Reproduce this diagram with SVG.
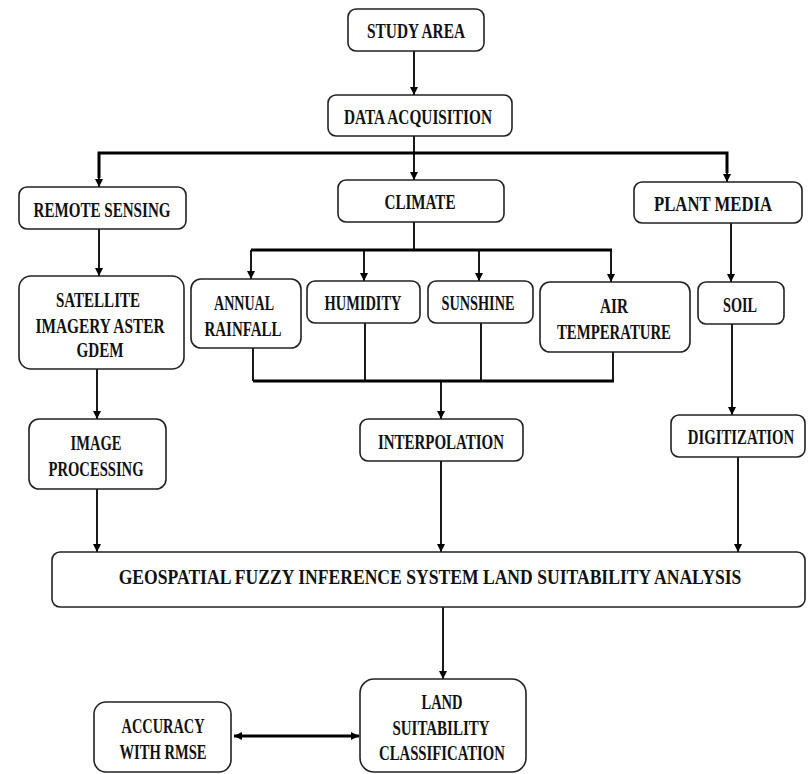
<svg xmlns="http://www.w3.org/2000/svg" width="808" height="774" viewBox="0 0 808 774">
<style>
.box{fill:#fff;stroke:#222;stroke-width:1.6}
.t{font-family:"Liberation Serif","Times New Roman",serif;font-weight:bold;font-size:20px;fill:#111;text-anchor:middle}
.ln{stroke:#000;stroke-width:1.8;fill:none}
.bus{stroke:#000;stroke-width:3;fill:none}
</style>
<defs>
<marker id="ah" viewBox="0 0 10 10" refX="10" refY="5" markerWidth="9" markerHeight="8" markerUnits="userSpaceOnUse" orient="auto-start-reverse">
<path d="M0,0 L10,5 L0,10 z" fill="#000"/>
</marker>
</defs>
<rect width="808" height="774" fill="#fff"/>
<g id="connectors">
<line class="ln" x1="414" y1="51" x2="414" y2="95" marker-end="url(#ah)"/>
<line class="ln" x1="414" y1="136" x2="414" y2="180" marker-end="url(#ah)"/>
<polyline class="bus" points="99,178 99,153 727,153 727,173"/>
<line class="ln" x1="99" y1="170" x2="99" y2="187" marker-end="url(#ah)"/>
<line class="ln" x1="727" y1="165" x2="727" y2="182" marker-end="url(#ah)"/>
<line class="ln" x1="414" y1="222" x2="414" y2="250"/>
<line class="bus" x1="251" y1="250" x2="612" y2="250"/>
<line class="ln" x1="251" y1="250" x2="251" y2="279" marker-end="url(#ah)"/>
<line class="ln" x1="364" y1="250" x2="364" y2="281" marker-end="url(#ah)"/>
<line class="ln" x1="479" y1="250" x2="479" y2="281" marker-end="url(#ah)"/>
<line class="ln" x1="611" y1="250" x2="611" y2="282" marker-end="url(#ah)"/>
<line class="ln" x1="99" y1="229" x2="99" y2="276" marker-end="url(#ah)"/>
<line class="ln" x1="731" y1="223" x2="731" y2="282" marker-end="url(#ah)"/>
<line class="ln" x1="253" y1="348" x2="253" y2="381"/>
<line class="ln" x1="365" y1="323" x2="365" y2="381"/>
<line class="ln" x1="481" y1="323" x2="481" y2="381"/>
<line class="ln" x1="613" y1="352" x2="613" y2="381"/>
<line class="bus" x1="253" y1="381" x2="614" y2="381"/>
<line class="ln" x1="441" y1="381" x2="441" y2="419" marker-end="url(#ah)"/>
<line class="ln" x1="97" y1="369" x2="97" y2="419" marker-end="url(#ah)"/>
<line class="ln" x1="732" y1="324" x2="732" y2="415" marker-end="url(#ah)"/>
<line class="ln" x1="97" y1="489" x2="97" y2="552" marker-end="url(#ah)"/>
<line class="ln" x1="441" y1="461" x2="441" y2="552" marker-end="url(#ah)"/>
<line class="ln" x1="738" y1="457" x2="738" y2="552" marker-end="url(#ah)"/>
<line class="ln" x1="443" y1="607" x2="443" y2="679" marker-end="url(#ah)"/>
<line class="bus" x1="234" y1="736" x2="359" y2="736" marker-start="url(#ah)" marker-end="url(#ah)"/>
</g>
<g id="study-area"><rect class="box" x="348" y="9" width="136" height="42" rx="8"/><text class="t" x="416" y="38" textLength="98" lengthAdjust="spacingAndGlyphs">STUDY AREA</text></g>
<g id="data-acquisition"><rect class="box" x="328" y="95" width="184" height="41" rx="8"/><text class="t" x="418" y="124" textLength="148" lengthAdjust="spacingAndGlyphs">DATA ACQUISITION</text></g>
<g id="remote-sensing"><rect class="box" x="19" y="187" width="167" height="42" rx="8"/><text class="t" x="102" y="217" textLength="137" lengthAdjust="spacingAndGlyphs">REMOTE SENSING</text></g>
<g id="climate"><rect class="box" x="338" y="180" width="166" height="42" rx="8"/><text class="t" x="420" y="209" textLength="71" lengthAdjust="spacingAndGlyphs">CLIMATE</text></g>
<g id="plant-media"><rect class="box" x="634" y="182" width="168" height="41" rx="8"/><text class="t" x="713" y="211" textLength="118" lengthAdjust="spacingAndGlyphs">PLANT MEDIA</text></g>
<g id="satellite"><rect class="box" x="19" y="276" width="165" height="93" rx="12"/><text class="t" x="98" y="307" textLength="84" lengthAdjust="spacingAndGlyphs">SATELLITE</text><text class="t" x="100" y="333" textLength="129" lengthAdjust="spacingAndGlyphs">IMAGERY ASTER</text><text class="t" x="100" y="357" textLength="47" lengthAdjust="spacingAndGlyphs">GDEM</text></g>
<g id="annual-rainfall"><rect class="box" x="191" y="279" width="110" height="69" rx="10"/><text class="t" x="244" y="310" textLength="60" lengthAdjust="spacingAndGlyphs">ANNUAL</text><text class="t" x="243" y="336" textLength="77" lengthAdjust="spacingAndGlyphs">RAINFALL</text></g>
<g id="humidity"><rect class="box" x="307" y="281" width="113" height="42" rx="8"/><text class="t" x="363" y="310" textLength="77" lengthAdjust="spacingAndGlyphs">HUMIDITY</text></g>
<g id="sunshine"><rect class="box" x="428" y="281" width="105" height="42" rx="8"/><text class="t" x="478" y="310" textLength="73" lengthAdjust="spacingAndGlyphs">SUNSHINE</text></g>
<g id="air-temperature"><rect class="box" x="540" y="282" width="150" height="70" rx="10"/><text class="t" x="614" y="313" textLength="28" lengthAdjust="spacingAndGlyphs">AIR</text><text class="t" x="614" y="339" textLength="114" lengthAdjust="spacingAndGlyphs">TEMPERATURE</text></g>
<g id="soil"><rect class="box" x="698" y="282" width="86" height="42" rx="8"/><text class="t" x="740" y="312" textLength="34" lengthAdjust="spacingAndGlyphs">SOIL</text></g>
<g id="image-processing"><rect class="box" x="29" y="419" width="137" height="70" rx="10"/><text class="t" x="96" y="450" textLength="51" lengthAdjust="spacingAndGlyphs">IMAGE</text><text class="t" x="96" y="476" textLength="95" lengthAdjust="spacingAndGlyphs">PROCESSING</text></g>
<g id="interpolation"><rect class="box" x="360" y="419" width="163" height="42" rx="8"/><text class="t" x="441" y="449" textLength="126" lengthAdjust="spacingAndGlyphs">INTERPOLATION</text></g>
<g id="digitization"><rect class="box" x="671" y="415" width="134" height="42" rx="8"/><text class="t" transform="translate(741,444) scale(0.74,1)" x="0" y="0">DIGITIZATION</text></g>
<g id="gfis"><rect class="box" x="52" y="552" width="753" height="55" rx="8"/><text class="t" transform="translate(430,584) scale(0.88,1)" x="0" y="0" font-size="21">GEOSPATIAL FUZZY INFERENCE SYSTEM LAND SUITABILITY ANALYSIS</text></g>
<g id="land-suitability"><rect class="box" x="360" y="679" width="166" height="93" rx="14"/><text class="t" x="442" y="709" textLength="41" lengthAdjust="spacingAndGlyphs">LAND</text><text class="t" x="441" y="735" textLength="97" lengthAdjust="spacingAndGlyphs">SUITABILITY</text><text class="t" x="442" y="760" textLength="126" lengthAdjust="spacingAndGlyphs">CLASSIFICATION</text></g>
<g id="accuracy"><rect class="box" x="94" y="702" width="137" height="70" rx="12"/><text class="t" x="163" y="733" textLength="83" lengthAdjust="spacingAndGlyphs">ACCURACY</text><text class="t" x="163" y="759" textLength="87" lengthAdjust="spacingAndGlyphs">WITH RMSE</text></g>
</svg>
